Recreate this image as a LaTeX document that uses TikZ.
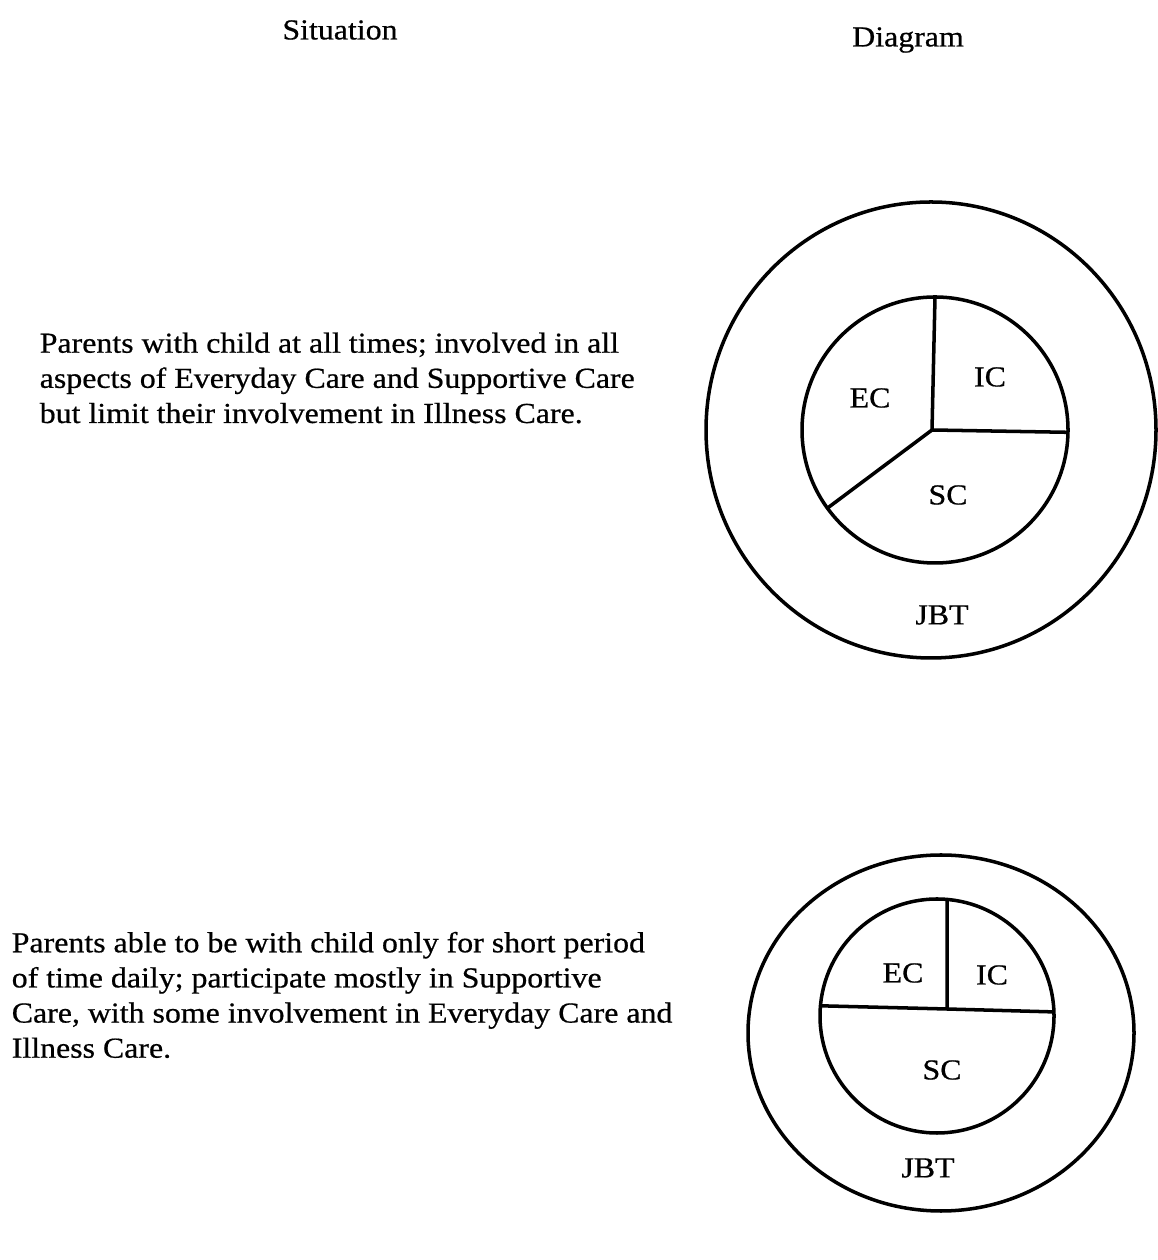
\documentclass[tikz,border=0pt]{standalone}
\usepackage{fontspec}
\setmainfont{Liberation Serif}[FakeStretch=1.1, FakeBold=0.6]
\usetikzlibrary{positioning}

\begin{document}
\begin{tikzpicture}[x=0.02cm, y=0.02cm, line width=2pt,
    every node/.style={font=\fontsize{16.5}{20}\selectfont},
    situation/.style={anchor=west, align=left, inner sep=0pt}]
        \useasboundingbox (0,0) rectangle (1158,1260);

        % Column headings
        \node (sit) at (340,1230) {Situation};
        \node (dia) at (908,1220) {Diagram};

        % Situation texts
        \node[situation] (txt1) at (38,882) {Parents with child at all times; involved in all\\
            aspects of Everyday Care and Supportive Care\\
            but limit their involvement in Illness Care.};
        \node[situation] (txt2) at (10,265) {Parents able to be with child only for short period\\
            of time daily; participate mostly in Supportive\\
            Care, with some involvement in Everyday Care and\\
            Illness Care.};

        % First diagram
        \coordinate (o1) at (931,830);
        \coordinate (c1) at (935,830);
        \coordinate (p1) at (932,830);
        \coordinate (u1) at ([shift={(90:133)}]c1);
        \coordinate (r1) at ([shift={(-1:133)}]c1);
        \coordinate (l1) at ([shift={(216:133)}]c1);
        \draw (o1) ellipse [x radius=225, y radius=228];
        \draw (c1) circle [radius=133];
        \draw (p1) -- (u1);
        \draw (p1) -- (r1);
        \draw (p1) -- (l1);
        \node (ec1)  at (870,862) {EC};
        \node (ic1)  at (990,883) {IC};
        \node (sc1)  at (948,765) {SC};
        \node (jbt1) at (942,645) {JBT};

        % Second diagram
        \coordinate (o2) at (941,227);
        \coordinate (c2) at (937,244);
        \coordinate (p2) at (947,251);
        \coordinate (u2) at ([shift={(85:117)}]c2);
        \coordinate (r2) at ([shift={(2:117)}]c2);
        \coordinate (l2) at ([shift={(175:117)}]c2);
        \draw (o2) ellipse [x radius=193, y radius=178];
        \draw (c2) circle [radius=117];
        \draw (p2) -- (u2);
        \draw (l2) -- (p2) -- (r2);
        \node (ec2)  at (903,287) {EC};
        \node (ic2)  at (992,285) {IC};
        \node (sc2)  at (942,190) {SC};
        \node (jbt2) at (928,92)  {JBT};
    \end{tikzpicture}
\end{document}
